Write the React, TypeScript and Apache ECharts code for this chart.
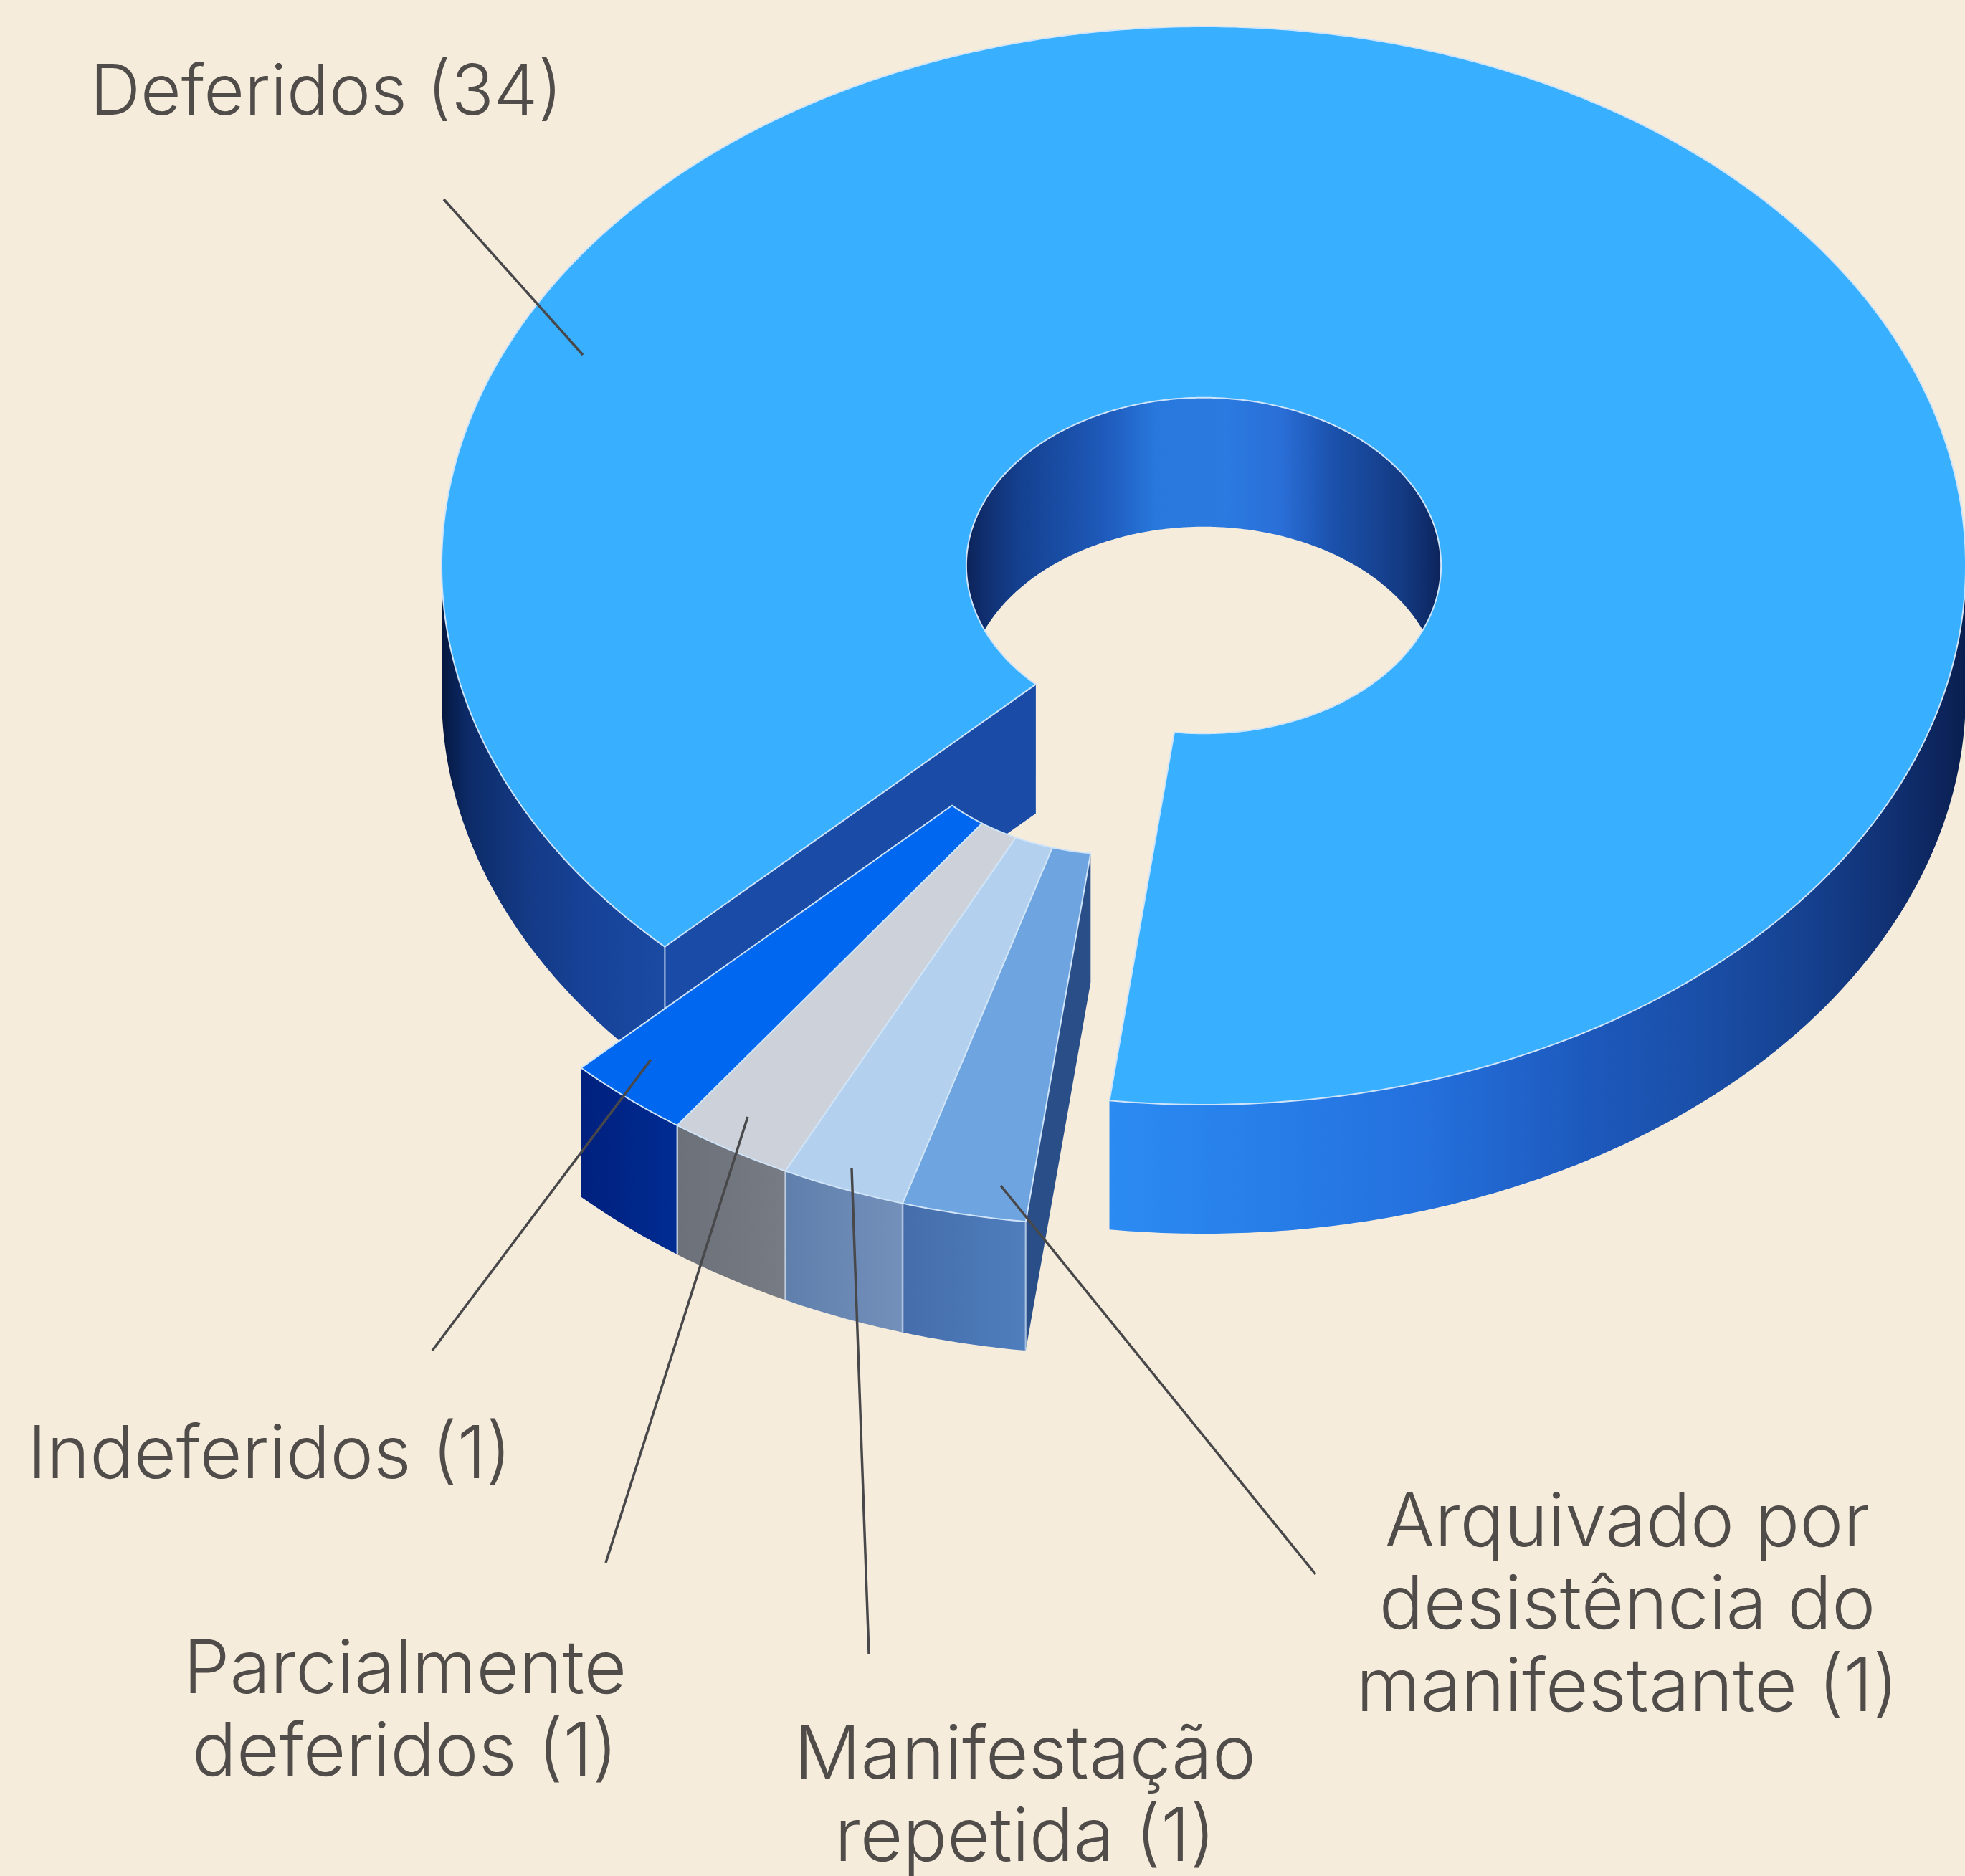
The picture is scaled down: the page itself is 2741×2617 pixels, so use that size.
import React, { useEffect, useRef } from "react";
import * as echarts from "echarts";

const categories = [
  "Deferidos",
  "Arquivado por\ndesistência do\nmanifestante",
  "Manifestação\nrepetida",
  "Parcialmente\ndeferidos",
  "Indeferidos",
];
const values = [34, 1, 1, 1, 1];
const exploded = [false, true, true, true, true];
const topColors = ["#38b0ff", "#6ea4df", "#b3d1ee", "#cdd2da", "#0068f0"];
const wallStops: [number, string][][][] = [
  [
    [[0, "#05173f"], [0.11, "#0c2a66"], [0.376, "#143a85"], [0.7, "#17439a"], [1, "#1a4aa2"]],
    [[0, "#2b8bf2"], [0.36, "#2471de"], [0.56, "#1d59bc"], [0.69, "#1a4fa8"], [0.82, "#15408e"], [0.92, "#102f70"], [1, "#0a1f50"]],
  ],
  [[[0, "#456dab"], [1, "#4f7ebd"]]],
  [[[0, "#5f7fac"], [1, "#7390ba"]]],
  [[[0, "#6c7079"], [1, "#777b83"]]],
  [[[0, "#00207e"], [1, "#002c92"]]],
];
const cutColors = ["#1a4ba6", "#2a4f88"];
const holeStops: [number, string][] = [
  [0, "#0c2358"], [0.04, "#102f70"], [0.11, "#14408f"], [0.3, "#1f5cbd"], [0.4, "#2878dd"],
  [0.55, "#2a7ae0"], [0.66, "#2a6fd8"], [0.77, "#1b52ad"], [0.92, "#143a82"], [0.98, "#0e2a66"], [1, "#0c2358"],
];

const labelPositions: [number, number][] = [
  [455, 67],
  [2270, 2062],
  [1430, 2386],
  [565, 2267],
  [376, 1967],
];
const labelSizes = [98, 103, 103, 103, 102];
const leaderLines: [number, number, number, number][] = [
  [619, 278, 813, 495],
  [1835, 2196, 1396, 1654],
  [1212, 2307, 1188, 1630],
  [845, 2180, 1043, 1558],
  [603, 1884, 908, 1478],
];

const W = 2741;
const H = 2617;
const CX = 1679;
const CY = 789;
const RX = 1063;
const RY = 752;
const INNER = 0.3115;
const DEPTH = 180;
const START = 45;
const EXPLODE = 0.25;
const EDGE = "#cfe4f8";
const SEP = "rgba(214,228,245,0.6)";
const BG = "#f6ecdc";
const rad = (d: number) => (d * Math.PI) / 180;

const total = values.reduce((a, b) => a + b, 0);
const starts: number[] = [];
values.reduce((acc, v, i) => {
  starts[i] = acc;
  return acc + (v / total) * 360;
}, START);
const ends = values.map((v, i) => starts[i] + (v / total) * 360);
const explodedIdx = exploded.map((e, i) => (e ? i : -1)).filter((i) => i >= 0);
const explodeMid = (starts[explodedIdx[0]] + ends[explodedIdx[explodedIdx.length - 1]]) / 2;
const OX = -Math.sin(rad(explodeMid)) * RX * EXPLODE;
const OY = Math.cos(rad(explodeMid)) * RY * EXPLODE;

function grad(stops: [number, string][]) {
  return new echarts.graphic.LinearGradient(
    0, 0, 1, 0,
    stops.map(([offset, color]) => ({ offset, color }))
  );
}

function renderSlice(params: any, api: any) {
  const i = params.dataIndex;
  const a = starts[i];
  const b = ends[i];
  const dx = exploded[i] ? OX : 0;
  const dy = exploded[i] ? OY : 0;
  const pt = (t: number, r: number, d = 0): number[] => [
    CX + dx - Math.sin(rad(t)) * RX * r,
    CY + dy + Math.cos(rad(t)) * RY * r + d,
  ];
  const arc = (from: number, to: number, r: number, d = 0) => {
    const n = Math.max(2, Math.ceil(Math.abs(to - from) / 0.5));
    const out: number[][] = [];
    for (let k = 0; k <= n; k++) out.push(pt(from + ((to - from) * k) / n, r, d));
    return out;
  };
  const children: any[] = [];

  if (i === 0) {
    const t0 = (Math.asin(DEPTH / 2 / (RY * INNER)) * 180) / Math.PI;
    const top = arc(90 - t0, 270 + t0, INNER);
    const floor = arc(270 + t0, 90 - t0, INNER, DEPTH);
    children.push({
      type: "polygon",
      shape: { points: [...top, ...floor] },
      style: { fill: grad(holeStops) },
    });
  }

  const prev = (i - 1 + values.length) % values.length;
  if (exploded[i] !== exploded[prev] && Math.sin(rad(a)) > 0) {
    children.push({
      type: "polygon",
      shape: { points: [pt(a, 1), pt(a, INNER), pt(a, INNER, DEPTH), pt(a, 1, DEPTH)] },
      style: { fill: cutColors[i === 0 ? 0 : 1] },
    });
  }

  let w = 0;
  for (const k of [0, 360]) {
    const lo = Math.max(a, k - 90);
    const hi = Math.min(b, k + 90);
    if (hi > lo) {
      children.push({
        type: "polygon",
        shape: { points: [...arc(lo, hi, 1), ...arc(hi, lo, 1, DEPTH)] },
        style: { fill: grad(wallStops[i][w]) },
      });
      w++;
    }
  }
  const seams = i === 0 ? [a] : [a, b];
  seams.forEach((t) => {
    if (i > 0 && t === ends[values.length - 1]) return;
    const p = pt(t, 1);
    children.push({
      type: "line",
      shape: { x1: p[0], y1: p[1], x2: p[0], y2: p[1] + DEPTH },
      style: { stroke: SEP, lineWidth: 2.5 },
    });
  });

  children.push({
    type: "polygon",
    shape: { points: [...arc(a, b, 1), ...arc(b, a, INNER)] },
    style: { fill: topColors[i], stroke: EDGE, lineWidth: 2, lineJoin: "round" },
  });
  return { type: "group", children };
}

export default function App() {
  const ref = useRef<HTMLDivElement>(null);
  useEffect(() => {
    const chart = echarts.init(ref.current!, undefined, { renderer: "svg" });
    chart.setOption({
      animation: false,
      backgroundColor: BG,
      graphic: [
        ...leaderLines.map(([x1, y1, x2, y2]) => ({
          type: "line",
          z: 10,
          shape: { x1, y1, x2, y2 },
          style: { stroke: "#48484a", lineWidth: 3.5 },
        })),
        ...categories.map((name, i) => ({
          type: "text",
          z: 10,
          x: labelPositions[i][0],
          y: labelPositions[i][1],
          style: {
            text: `${name} (${values[i]})`,
            fill: "#504c49",
            fontFamily: "Inter",
            fontWeight: 300,
            fontSize: labelSizes[i],
            lineHeight: 115,
            align: "center",
            verticalAlign: "top",
          },
        })),
      ],
      series: [
        {
          type: "custom",
          coordinateSystem: "none",
          renderItem: renderSlice,
          data: values.map((value, i) => ({ name: categories[i], value })),
          silent: true,
          z: 2,
        },
      ],
    });
    return () => chart.dispose();
  }, []);
  return <div ref={ref} style={{ position: "fixed", left: 0, top: 0, width: W, height: H }} />;
}
